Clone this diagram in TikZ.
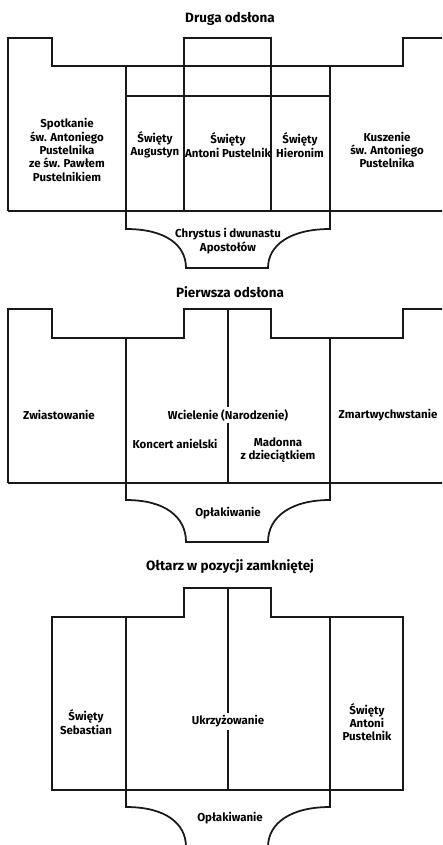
\documentclass[tikz,border=0pt]{standalone}
\usepackage{fontspec}
\setmainfont{Fira Sans}
\usetikzlibrary{positioning}

\begin{document}
\begin{tikzpicture}[
      x=0.03cm,y=-0.03cm,
      panel/.style={
         line width=1.5pt,
         line join=miter,
         draw=black!90
      },
      caption/.style={
         align=center,
         inner sep=2pt,
         font=\bfseries\fontsize{9.8}{11.4}\selectfont
      },
      heading/.style={
         inner sep=2pt,
         font=\bfseries\fontsize{11.5}{13}\selectfont
      }
    ]
    \useasboundingbox (0,0) rectangle (442,845);
    \clip (0,0) rectangle (442,845);
    % headings
    \node (d0) [heading] at (230,19)  {Druga odsłona};
    \node (p0) [heading] at (230,292) {Pierwsza odsłona};
    \node (z0) [heading] at (230,567) {Ołtarz w pozycji zamkniętej};
    % predella and inner wings, one per view
    \foreach \top/\y/\d in {66/229/39, 338/500/42, 617/807/40} {
      \draw[panel] (126,\top) -- (126,\y)
         .. controls (165,\y) and (186,\y+0.4*\d) .. (186,\y+\d)
         -- (268,\y+\d)
         .. controls (268,\y+0.4*\d) and (291,\y) .. (330,\y)
         -- (330,\top);
    }
    % druga odslona
    \draw[panel] (8,211) -- (8,38) -- (52,38) -- (52,66) -- (403,66) -- (403,38) -- (446,38);
    \draw[panel] (8,211) -- (446,211);
    \draw[panel] (184,211) -- (184,38) -- (271,38) -- (271,211);
    \draw[panel] (126,96) -- (330,96);
    \node (d1) [caption] at (67,150)  {Spotkanie\\św. Antoniego\\Pustelnika\\ze św. Pawłem\\Pustelnikiem};
    \node (d2) [caption] at (155,145) {Święty\\Augustyn};
    \node (d3) [caption] at (228,145) {Święty\\Antoni Pustelnik};
    \node (d4) [caption] at (300,145) {Święty\\Hieronim};
    \node (d5) [caption] at (387,150) {Kuszenie\\św. Antoniego\\Pustelnika};
    \node (d6) [caption] at (228,241) {Chrystus i dwunastu\\Apostołów};
    % pierwsza odslona
    \draw[panel] (8,483) -- (8,309) -- (52,309) -- (52,338) -- (184,338) -- (184,309)
       -- (271,309) -- (271,338) -- (403,338) -- (403,309) -- (446,309);
    \draw[panel] (8,483) -- (446,483);
    \node (p1) [caption] at (59,415)  {Zwiastowanie};
    \node (p2) [caption] at (228,415) {Wcielenie (Narodzenie)};
    \node (p3) [caption] at (388,415) {Zmartwychwstanie};
    \node (p4) [caption] at (175,444) {Koncert anielski};
    \node (p5) [caption] at (278,450) {Madonna\\z dzieciątkiem};
    \node (p6) [caption] at (228,513) {Opłakiwanie};
    \draw[panel] (228,309) -- (p2.north);
    \draw[panel] (p2.south) -- (228,483);
    % oltarz zamkniety
    \draw[panel] (52,790) -- (52,617) -- (184,617) -- (184,588) -- (271,588) -- (271,617)
       -- (403,617) -- (403,790) -- cycle;
    \node (z1) [caption] at (86,722)  {Święty\\Sebastian};
    \node (z2) [caption] at (228,721) {Ukrzyżowanie};
    \node (z3) [caption] at (367,722) {Święty\\Antoni\\Pustelnik};
    \node (z4) [caption] at (230,818) {Opłakiwanie};
    \draw[panel] (228,588) -- (z2.north);
    \draw[panel] (z2.south) -- (228,790);
\end{tikzpicture}
\end{document}
